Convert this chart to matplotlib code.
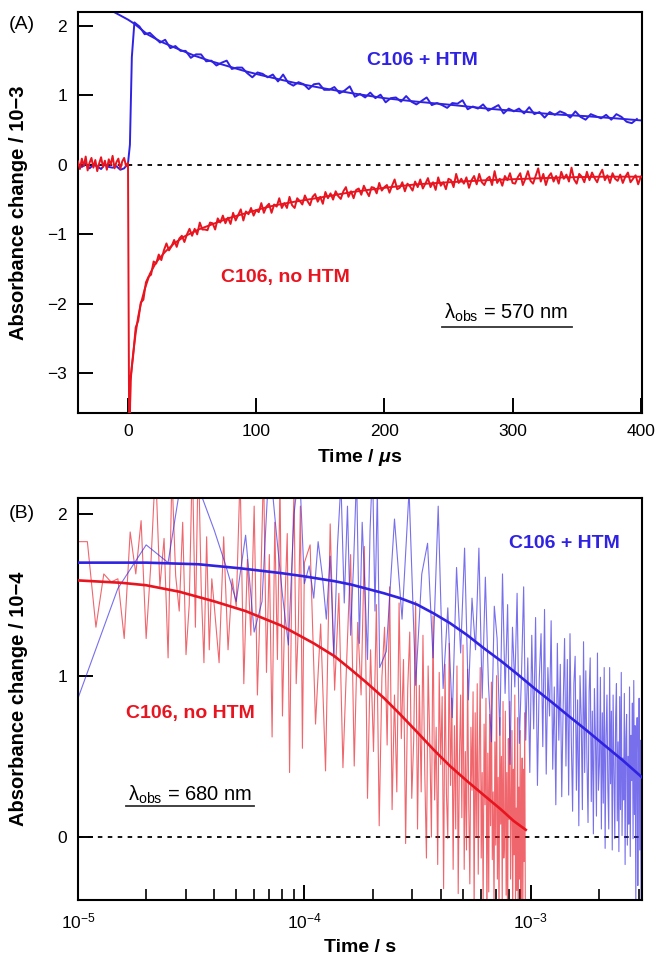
import matplotlib
matplotlib.use("Agg")
import matplotlib.pyplot as plt
import numpy as np
from matplotlib.ticker import LogLocator, NullFormatter

plt.rcParams["font.family"] = ["Liberation Sans", "DejaVu Sans"]
plt.rcParams["mathtext.fontset"] = "custom"
plt.rcParams["mathtext.rm"] = "Liberation Sans"
plt.rcParams["mathtext.it"] = "Liberation Sans:italic:bold"
plt.rcParams["mathtext.bf"] = "Liberation Sans:bold"

BLUE = "#2f22e2"
RED = "#e8141f"

# ---------------- panel A : lambda_obs = 570 nm, time in microseconds ----------------
# red (C106, no HTM), raw trace
red_a_pre = [0.05, -0.06, 0.09, -0.02, 0.12, -0.08, 0.03, 0.10, -0.04, 0.07,
             -0.09, 0.02, 0.11, -0.03, 0.06, -0.07, 0.08, 0.00, 0.13, -0.05,
             0.04, 0.09, -0.06, 0.05, 0.10, -0.02, 0.03]
red_a_post = [-4.2,
              -3.07, -2.75, -2.34, -2.24, -1.98, -1.94, -1.69, -1.61, -1.58, -1.39,
              -1.42, -1.29, -1.37, -1.23, -1.13, -1.23, -1.17, -1.08, -1.18, -1.06,
              -1.02, -1.11, -1.00, -0.92, -1.02, -0.92, -1.00, -0.83, -0.93, -0.93,
              -0.94, -0.83, -0.84, -0.93, -0.77, -0.83, -0.73, -0.84, -0.76, -0.85,
              -0.69, -0.80, -0.72, -0.64, -0.80, -0.67, -0.71, -0.62, -0.73, -0.65,
              -0.68, -0.55, -0.69, -0.60, -0.56, -0.69, -0.57, -0.60, -0.48, -0.62,
              -0.55, -0.62, -0.46, -0.58, -0.62, -0.48, -0.52, -0.57, -0.44, -0.52,
              -0.58, -0.46, -0.42, -0.53, -0.46, -0.56, -0.39, -0.48, -0.41, -0.50,
              -0.38, -0.45, -0.49, -0.38, -0.32, -0.46, -0.38, -0.48, -0.36, -0.34,
              -0.43, -0.30, -0.38, -0.45, -0.32, -0.33, -0.41, -0.26, -0.37, -0.32,
              -0.29, -0.40, -0.30, -0.21, -0.35, -0.33, -0.25, -0.38, -0.27, -0.31,
              -0.37, -0.24, -0.32, -0.21, -0.34, -0.27, -0.19, -0.32, -0.25, -0.36,
              -0.18, -0.30, -0.25, -0.35, -0.20, -0.22, -0.32, -0.13, -0.26, -0.20,
              -0.27, -0.18, -0.33, -0.22, -0.16, -0.28, -0.13, -0.25, -0.29, -0.20,
              -0.17, -0.29, -0.09, -0.26, -0.20, -0.30, -0.16, -0.22, -0.12, -0.26,
              -0.27, -0.18, -0.12, -0.29, -0.20, -0.09, -0.23, -0.27, -0.16, -0.05,
              -0.24, -0.13, -0.29, -0.17, -0.12, -0.24, -0.16, -0.27, -0.10, -0.20,
              -0.14, -0.24, -0.04, -0.21, -0.27, -0.13, -0.17, -0.25, -0.10, -0.22,
              -0.11, -0.19, -0.25, -0.14, -0.07, -0.22, -0.15, -0.26, -0.12, -0.20,
              -0.23, -0.14, -0.26, -0.17, -0.11, -0.25, -0.20, -0.15, -0.28, -0.17]
red_a_t = np.concatenate([np.arange(-39, 0.1, 1.5), [1.0], np.arange(2, 401, 2)])
red_a_v = np.array(red_a_pre + red_a_post)

# red fit
red_a_fit_t = [1.2, 2, 3, 4, 6, 8, 10, 13, 17, 22, 29, 36, 44, 55, 65, 78, 91, 104,
               115, 130, 150, 175, 200, 225, 250, 280, 310, 340, 370, 400]
red_a_fit_v = [-3.7, -3.12, -2.90, -2.72, -2.42, -2.18, -2.00, -1.79, -1.57, -1.40,
               -1.25, -1.13, -1.03, -0.93, -0.86, -0.77, -0.70, -0.63, -0.58, -0.53,
               -0.47, -0.39, -0.33, -0.28, -0.25, -0.22, -0.20, -0.18, -0.17, -0.17]

# blue (C106 + HTM), raw trace
blue_a_pre = [0.01, -0.03, 0.02, -0.05, 0.00, -0.02, -0.06, 0.01, -0.03, -0.04,
              -0.02, -0.07, -0.05, 0.02]
blue_a_rise = [0.29, 1.55, 2.05]
blue_a_post = [1.99, 1.88, 1.90, 1.83, 1.76, 1.80, 1.68, 1.71, 1.64, 1.64,
               1.54, 1.59, 1.59, 1.49, 1.50, 1.43, 1.47, 1.50, 1.38, 1.40,
               1.40, 1.32, 1.26, 1.33, 1.31, 1.26, 1.30, 1.20, 1.30, 1.18,
               1.14, 1.19, 1.16, 1.09, 1.16, 1.17, 1.08, 1.08, 1.12, 1.03,
               1.07, 1.13, 0.98, 1.02, 0.97, 1.04, 0.96, 1.01, 0.90, 0.96,
               0.97, 0.91, 0.99, 0.91, 0.87, 0.92, 0.97, 0.86, 0.89, 0.86,
               0.82, 0.89, 0.88, 0.93, 0.80, 0.84, 0.81, 0.87, 0.78, 0.82,
               0.86, 0.74, 0.81, 0.77, 0.81, 0.74, 0.83, 0.73, 0.76, 0.68,
               0.76, 0.72, 0.77, 0.74, 0.68, 0.77, 0.69, 0.65, 0.73, 0.70,
               0.67, 0.72, 0.65, 0.73, 0.69, 0.62, 0.60, 0.66]
blue_a_t = np.concatenate([np.arange(-39, 1, 3), [1.5, 3.0, 5.0], np.arange(9, 400, 4)])
blue_a_v = np.array(blue_a_pre + blue_a_rise + blue_a_post)

# blue fit
blue_a_fit_t = [-12, -6, 0, 5, 15, 26, 40, 52, 65, 78, 91, 104, 130, 150, 175, 200,
                225, 254, 280, 306, 330, 358, 380, 400]
blue_a_fit_v = [2.21, 2.15, 2.09, 2.03, 1.88, 1.77, 1.66, 1.57, 1.49, 1.42, 1.35, 1.29,
                1.18, 1.11, 1.03, 0.96, 0.91, 0.86, 0.81, 0.77, 0.73, 0.70, 0.67, 0.64]

# ---------------- panel B : lambda_obs = 680 nm, time in microseconds (plotted in s) ----------------
red_b_v = [1.83, 1.83, 1.30, 1.63, 1.58, 1.60, 1.23, 1.89, 1.63, 1.96,
           1.23, 1.70, 2.30, 1.55, 1.85, 1.11, 2.25, 1.62, 1.40, 1.95,
           1.13, 1.44, 2.35, 1.30, 2.40, 1.55, 1.08, 1.86, 1.16, 1.60, 1.43,
           1.08, 1.86, 1.16, 1.60, 1.43, 2.25, 0.95, 1.72, 1.25, 2.05,
           0.88, 1.50, 2.30, 1.02, 1.75, 0.62, 1.95, 1.10, 2.20, 0.75,
           1.45, 1.88, 0.40, 1.62, 2.15, 0.95, 1.30, 2.05, 0.55, 1.70,
           1.81, 0.70, 1.32, 0.41, 1.94, 0.91, 1.51, 0.43, 1.12, 1.75,
           0.44, 1.33, 0.88, 1.80, 0.24, 1.16, 0.53, 1.44, 0.07, 0.99,
           1.30, 0.57, 1.55, 0.17, 0.88, 0.28, 1.45, 0.61, 1.10, -0.04,
           0.92, 1.27, 0.24, 0.60, 1.46, 0.05, 0.94, 0.28, 1.25, 0.42,
           -0.13, 1.06, 0.59, 0.00, 1.37, 0.23, 0.68, -0.17, 1.02, 0.45,
           0.87, -0.32, 1.07, 0.27, -0.01, 1.20, 0.32, 0.86, -0.20, 0.69,
           0.05, 1.06, -0.35, 0.49, 0.88, 0.12, 1.19, -0.20, 0.53, -0.08,
           1.04, 0.20, -0.29, 0.68, 0.29, 0.90, -0.47, 0.77, 0.00, 0.95,
           -0.23, 0.51, 1.05, -0.13, 0.40, -0.43, 0.70, 0.20, 0.86, -0.59,
           0.52, -0.34, 0.76, 0.07, 0.96, -0.14, 0.28, -0.45, 0.59, -0.05,
           1.00, -0.26, 0.37, -0.55, 0.74, 0.08, 0.50, -0.43, 0.84, -0.13,
           0.00, 0.78, -0.36, 0.40, -0.69, 0.61, 0.11, 0.84, -0.26, 0.23,
           0.66, -0.56, 0.42, -0.11, 0.88, -0.44, 0.18, -0.33, 0.74, -0.68,
           0.31, -0.26, 0.66, -0.64, 0.20, 0.49, -0.56, 0.42, -0.15, 0.77,
           -0.42]
red_b_t = np.concatenate([np.arange(10, 41, 1), np.arange(42, 101, 2), np.arange(106, 947, 6)])

red_b_fit_t = [10, 15.6, 20, 28, 40, 55, 79, 110, 136, 160, 187, 225, 265, 315, 373,
               440, 525, 620, 740, 840, 950]
red_b_fit_v = [1.59, 1.575, 1.56, 1.52, 1.46, 1.40, 1.31, 1.20, 1.12, 1.04, 0.96, 0.86,
               0.76, 0.65, 0.54, 0.44, 0.345, 0.26, 0.17, 0.10, 0.045]

blue_b_v = [0.86, 1.54, 1.81, 1.70, 2.40, 2.12, 1.90, 1.68, 1.46, 1.87,
            1.27, 1.46, 2.35, 1.90, 1.50, 1.19, 2.00, 2.30, 1.57, 1.68,
            1.48, 1.83, 1.62, 1.35, 1.74, 1.11, 1.80, 2.20, 1.45, 2.05,
            1.25, 1.70, 2.25, 1.20, 1.95, 1.55, 1.10, 1.90, 2.30, 1.40,
            2.15, 1.05,
            1.15, 1.97, 1.35, 2.15, 0.94, 1.63, 1.82, 1.11, 2.05, 0.92,
            1.42, 0.74, 1.67, 1.14, 1.79, 0.85, 1.48, 1.16, 1.79, 0.86,
            1.61, 0.95, 0.59, 1.43, 1.23, 0.63, 1.63, 0.89, 1.44, 0.45,
            1.30, 0.93, 1.51, 0.58, 1.01, 1.55, 0.60, 1.11, 0.40, 1.25,
            0.67, 1.36, 0.32, 0.98, 1.26, 0.56, 1.41, 0.39, 1.05, 0.75,
            1.34, 0.42, 0.93, 0.20, 1.20, 0.60, 1.07, 0.25, 0.81, 1.23,
            0.44, 1.10, 0.26, 1.26, 0.60, 0.16, 0.95, 1.12, 0.29, 0.85,
            0.07, 1.00, 0.74, 0.17, 1.21, 0.40, 1.03, 0.48, 0.09, 0.90,
            1.11, 0.22, 0.78, 0.02, 0.92, 0.61, 0.13, 1.14, 0.29, 0.45,
            0.99, 0.05, 0.77, 0.21, 1.05, -0.07, 0.63, 0.88, 0.30, 0.05,
            1.05, 0.33, 0.78, -0.08, 0.88, 0.39, -0.01, 0.74, 0.95, 0.10,
            0.59, -0.09, 0.87, 0.17, 1.02, 0.01, 0.49, 0.23, 0.89, -0.17,
            0.61, 0.76, -0.05, 0.50, 0.08, 0.93, -0.12, 0.63, 0.35, 0.83,
            -0.01, 0.97, 0.14, 0.69, -0.42, 0.52, 0.74, -0.30, 0.36, 0.86,
            -0.08, 0.60, -0.45, 0.77, 0.19]
blue_b_t = np.concatenate([np.arange(10, 216, 5), np.arange(230, 3111, 20)])

blue_b_fit_t = [10, 20, 34, 52, 79, 100, 136, 160, 187, 225, 265, 315, 373, 440, 525,
                620, 740, 880, 1040, 1240, 1470, 1750, 2070, 2550, 3100]
blue_b_fit_v = [1.70, 1.70, 1.69, 1.665, 1.635, 1.615, 1.585, 1.565, 1.54, 1.51, 1.48,
                1.44, 1.385, 1.325, 1.25, 1.17, 1.09, 1.005, 0.92, 0.835, 0.75, 0.665,
                0.58, 0.475, 0.37]

US = 1e-6  # microseconds -> seconds

fig = plt.figure(figsize=(6.56, 9.58), dpi=100)
ax_a = fig.add_axes([0.1189, 0.5689, 0.8598, 0.4186])
ax_b = fig.add_axes([0.1189, 0.0605, 0.8598, 0.4196])

# ---- panel A ----
ax_a.axhline(0, color="black", lw=1.3, ls=(0, (2.5, 3)), zorder=1)
ax_a.plot(blue_a_t, blue_a_v, color=BLUE, lw=1.4, zorder=2)
ax_a.plot(blue_a_fit_t, blue_a_fit_v, color=BLUE, lw=1.4, zorder=2)
ax_a.plot(red_a_t, red_a_v, color=RED, lw=1.4, zorder=3)
ax_a.plot(red_a_fit_t, red_a_fit_v, color=RED, lw=1.4, zorder=3)
ax_a.set_xlim(-39, 401)
ax_a.set_ylim(-3.57, 2.2)
ax_a.set_xticks([0, 100, 200, 300, 400])
ax_a.set_yticks([-3, -2, -1, 0, 1, 2])
ax_a.set_xlabel(r"Time / $\mu$s", fontsize=14, fontweight="bold", labelpad=6)
ax_a.set_ylabel("Absorbance change / 10\u22123", fontsize=14.5, fontweight="bold")
ax_a.yaxis.set_label_coords(-0.089, 0.5)
ax_a.text(0.61, 0.88, "C106 + HTM", color=BLUE, fontsize=14, fontweight="bold",
          ha="center", va="center", transform=ax_a.transAxes)
ax_a.text(0.367, 0.337, "C106, no HTM", color=RED, fontsize=14, fontweight="bold",
          ha="center", va="center", transform=ax_a.transAxes)
ax_a.text(0.759, 0.249, "\u03bb$_{\\mathrm{obs}}$ = 570 nm", fontsize=14.5,
          ha="center", va="center", transform=ax_a.transAxes)
ax_a.plot([0.645, 0.876], [0.2145, 0.2145], color="#333333", lw=1.3,
          transform=ax_a.transAxes, clip_on=False)

# ---- panel B ----
ax_b.axhline(0, color="black", lw=1.3, ls=(0, (2.5, 3)), zorder=1)
ax_b.plot(red_b_t * US, red_b_v, color=RED, lw=0.8, alpha=0.65, zorder=2)
ax_b.plot(blue_b_t * US, blue_b_v, color=BLUE, lw=0.8, alpha=0.65, zorder=2)
ax_b.plot(np.array(red_b_fit_t) * US, red_b_fit_v, color=RED, lw=1.9, zorder=4)
ax_b.plot(np.array(blue_b_fit_t) * US, blue_b_fit_v, color=BLUE, lw=1.9, zorder=4)
ax_b.set_xscale("log")
ax_b.set_xlim(1e-5, 3.1e-3)
ax_b.set_ylim(-0.39, 2.1)
ax_b.set_yticks([0, 1, 2])
ax_b.xaxis.set_major_locator(LogLocator(base=10))
ax_b.xaxis.set_minor_locator(LogLocator(base=10, subs=range(2, 10)))
ax_b.xaxis.set_minor_formatter(NullFormatter())
ax_b.set_xlabel("Time / s", fontsize=14, fontweight="bold", labelpad=6)
ax_b.set_ylabel("Absorbance change / 10\u22124", fontsize=14.5, fontweight="bold")
ax_b.yaxis.set_label_coords(-0.089, 0.5)
ax_b.text(0.863, 0.888, "C106 + HTM", color=BLUE, fontsize=14, fontweight="bold",
          ha="center", va="center", transform=ax_b.transAxes)
ax_b.text(0.1995, 0.465, "C106, no HTM", color=RED, fontsize=14, fontweight="bold",
          ha="center", va="center", transform=ax_b.transAxes)
ax_b.text(0.199, 0.261, "\u03bb$_{\\mathrm{obs}}$ = 680 nm", fontsize=14.5,
          ha="center", va="center", transform=ax_b.transAxes)
ax_b.plot([0.085, 0.312], [0.234, 0.234], color="#333333", lw=1.3,
          transform=ax_b.transAxes, clip_on=False)

for ax in (ax_a, ax_b):
    for s in ax.spines.values():
        s.set_linewidth(1.5)
    ax.tick_params(which="major", direction="in", length=11, width=1.4,
                   labelsize=12.5, top=False, right=False, pad=8)
    ax.tick_params(which="minor", direction="in", length=8, width=1.2,
                   top=False, right=False)

fig.text(0.033, 0.974, "(A)", fontsize=14, ha="center", va="center")
fig.text(0.033, 0.4645, "(B)", fontsize=14, ha="center", va="center")

fig.savefig("out.png", dpi=100)
